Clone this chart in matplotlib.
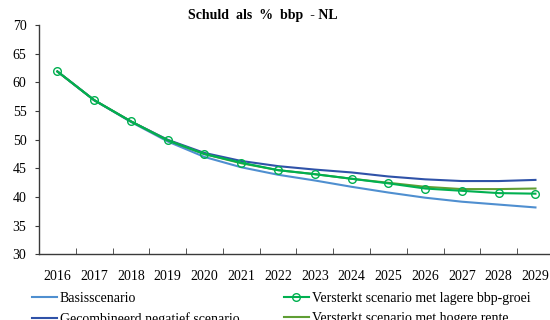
import numpy as np
import matplotlib.pyplot as plt
from matplotlib.ticker import FixedLocator

plt.rcParams['font.family'] = ['Liberation Serif', 'DejaVu Serif']

years = [str(y) for y in range(2016, 2030)]

basis = [61.9, 56.9, 53.1, 49.7, 47.0, 45.2, 43.9, 42.9, 41.8, 40.8, 39.9, 39.2, 38.7, 38.2]
lagere_groei = [61.9, 56.9, 53.2, 49.9, 47.5, 46.0, 44.7, 44.0, 43.2, 42.4, 41.5, 41.1, 40.7, 40.6]
gecombineerd = [61.9, 56.9, 53.2, 50.0, 47.7, 46.3, 45.4, 44.8, 44.3, 43.6, 43.1, 42.8, 42.8, 43.0]
hogere_rente = [61.9, 56.9, 53.2, 49.9, 47.5, 45.9, 44.7, 44.0, 43.2, 42.5, 41.8, 41.4, 41.4, 41.5]

c_basis = '#4f8fd0'
c_lagere = '#00b050'
c_gecomb = '#2f52a8'
c_hogere = '#5f9e34'

fig = plt.figure(figsize=(5.5, 3.2), dpi=100)
ax = fig.add_axes([0.0709, 0.2047, 1.007 - 0.0709, 0.9219 - 0.2047])

x = np.arange(len(years))
l1, = ax.plot(x, basis, color=c_basis, lw=1.5, label='Basisscenario')
l3, = ax.plot(x, gecombineerd, color=c_gecomb, lw=1.5, label='Gecombineerd negatief scenario')
l4, = ax.plot(x, hogere_rente, color=c_hogere, lw=1.5, label='Versterkt scenario met hogere rente')
l2, = ax.plot(x, lagere_groei, color=c_lagere, lw=1.5, marker='o', ms=5.5,
              mfc='none', mec=c_lagere, mew=1.0,
              label='Versterkt scenario met lagere bbp-groei')

ax.set_xlim(-0.5, len(years) - 0.5)
ax.set_ylim(30, 70)
ax.set_yticks(range(30, 71, 5))

ax.set_xticks(x)
ax.set_xticklabels(years)
ax.xaxis.set_minor_locator(FixedLocator(np.arange(-0.5, len(years), 1.0)))
ax.tick_params(axis='x', which='major', length=0, pad=11, labelsize=10)
ax.tick_params(axis='x', which='minor', direction='in', length=4, color='#3a3a3a')
ax.tick_params(axis='y', direction='out', length=3, pad=6, labelsize=10, color='#3a3a3a')

for side in ['top', 'right']:
    ax.spines[side].set_visible(False)
for side in ['left', 'bottom']:
    ax.spines[side].set_color('#3a3a3a')
    ax.spines[side].set_linewidth(1.0)

fig.text(0.478, 0.953, 'Schuld  als  %  bbp  - NL', ha='center', va='center',
         fontsize=10, fontweight='bold')

leg_kw = dict(loc='upper left', frameon=False, fontsize=10, handlelength=1.8,
              handletextpad=0.2, borderpad=0, borderaxespad=0, labelspacing=0.5)
leg1 = fig.legend(handles=[l1, l3], bbox_to_anchor=(0.058, 0.088), **leg_kw)
leg2 = fig.legend(handles=[l2, l4], bbox_to_anchor=(0.516, 0.088), **leg_kw)

fig.savefig('out.png', dpi=100)
